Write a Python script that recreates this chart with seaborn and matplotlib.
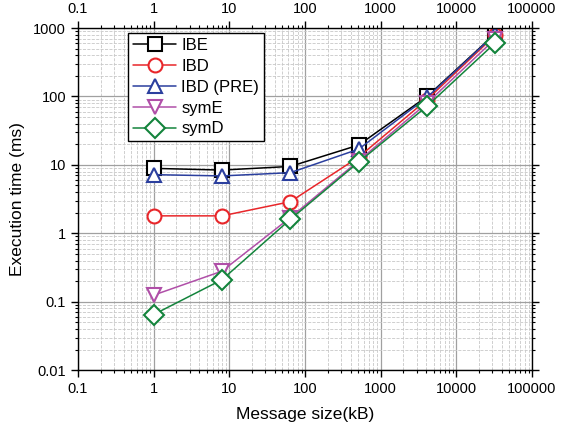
import pandas as pd
import matplotlib
matplotlib.use("Agg")
import matplotlib.pyplot as plt
import seaborn as sns

sns.set_style("ticks")
plt.rcParams["font.family"] = ["Liberation Sans", "DejaVu Sans"]
plt.rcParams["text.color"] = "black"
plt.rcParams["axes.labelcolor"] = "black"

# message sizes (kB) and execution times (ms)
sizes = [1, 8, 64, 512, 4096, 32768]
ibe = [8.9, 8.4, 9.5, 19.5, 100, 830]
ibd = [1.8, 1.8, 2.9, 13, 90, 790]
ibd_pre = [7.2, 6.9, 7.7, 17, 97, 820]
sym_e = [0.125, 0.28, 1.7, 11.5, 80, 700]
sym_d = [0.065, 0.21, 1.6, 11, 72, 610]

names = ["IBE", "IBD", "IBD (PRE)", "symE", "symD"]
series = [ibe, ibd, ibd_pre, sym_e, sym_d]
colors = ["#000000", "#e8262a", "#2b3f9e", "#b04fa8", "#13843c"]
markers = ["s", "o", "^", "v", "D"]

df = pd.DataFrame({
    "size": sizes * len(names),
    "time": [v for s in series for v in s],
    "scheme": [n for n in names for _ in sizes],
})

fig = plt.figure(figsize=(5.63, 4.25), dpi=100)
ax = fig.add_axes([0.1385, 0.129, 0.8065, 0.805])

sns.lineplot(data=df, x="size", y="time", hue="scheme", style="scheme",
             hue_order=names, style_order=names,
             palette=dict(zip(names, colors)),
             markers=dict(zip(names, markers)), dashes=False,
             markersize=10, markerfacecolor="white", markeredgewidth=1.5,
             linewidth=1.1, legend=False, ax=ax)

handles = ax.lines[:len(names)]
for line, c, n in zip(handles, colors, names):
    line.set_markeredgecolor(c)
    line.set_label(n)

ax.set_xscale("log")
ax.set_yscale("log")
ax.set_xlim(0.1, 100000)
ax.set_ylim(0.01, 1000)
ax.set_xticks([0.1, 1, 10, 100, 1000, 10000, 100000])
ax.set_xticklabels(["0.1", "1", "10", "100", "1000", "10000", "100000"])
ax.set_yticks([0.01, 0.1, 1, 10, 100, 1000])
ax.set_yticklabels(["0.01", "0.1", "1", "10", "100", "1000"])

ax.grid(which="major", color="#a0a0a0", linestyle="-", linewidth=0.9)
ax.grid(which="minor", color="#c8c8c8", linestyle="--", linewidth=0.6)
ax.tick_params(which="both", direction="out", top=True, right=True,
               labeltop=True, labelsize=10.5, colors="black")
ax.tick_params(which="major", length=5, width=1)
ax.tick_params(which="minor", length=2.5, width=0.8)
for sp in ax.spines.values():
    sp.set_color("black")
    sp.set_linewidth(1.0)

ax.set_xlabel("Message size(kB)", fontsize=12.5, labelpad=8)
ax.set_ylabel("Execution time (ms)", fontsize=12.5, labelpad=6)

leg = ax.legend(handles=handles, labels=names, loc="upper left",
                bbox_to_anchor=(0.099, 1.0),
                borderaxespad=0.3, fontsize=12, frameon=True, fancybox=False,
                handlelength=2.6, labelspacing=0.35, borderpad=0.3,
                handletextpad=0.3)
leg.get_frame().set_edgecolor("black")
leg.get_frame().set_linewidth(1.0)
leg.get_frame().set_alpha(1)

fig.savefig("out.png", dpi=100)
